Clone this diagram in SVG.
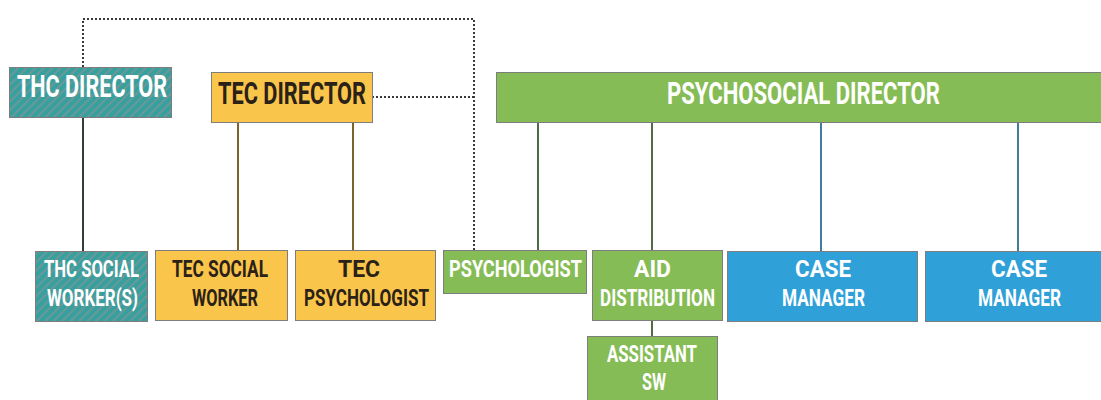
<svg xmlns="http://www.w3.org/2000/svg" width="1101" height="400" viewBox="0 0 1101 400">
  <defs>
    <pattern id="stripes" patternUnits="userSpaceOnUse" width="6" height="6" patternTransform="rotate(45)">
      <rect width="6" height="6" fill="#36a09e"/>
      <rect width="2" height="6" fill="#6a9898"/>
    </pattern>
  </defs>
  <style>
    .box { stroke: #7d7d7d; stroke-width: 1; }
    .thc { fill: url(#stripes); }
    .tec { fill: #fac54b; }
    .psy { fill: #86bc55; }
    .cm  { fill: #2fa0d8; }
    text { font-family: Roboto, "Liberation Sans", sans-serif; font-weight: bold; }
    .lt { fill: #ffffff; }
    .dk { fill: #2a2118; }
    .big { font-size: 31px; }
    .sm { font-size: 24px; }
    .ln { fill: none; stroke-width: 2; }
    .dot { fill: none; stroke: #3a3a3a; stroke-width: 2; stroke-dasharray: 2 2; }
  </style>

  <!-- connectors -->
  <g id="connectors">
    <path class="dot" d="M83 67 V19 H474 V250"/>
    <path class="dot" d="M372 97 H474"/>
    <line class="ln" x1="83" y1="117" x2="83" y2="251" stroke="#2f3d3d"/>
    <line class="ln" x1="238" y1="122" x2="238" y2="250" stroke="#7a6428"/>
    <line class="ln" x1="353" y1="122" x2="353" y2="250" stroke="#7a6428"/>
    <line class="ln" x1="538" y1="122" x2="538" y2="250" stroke="#4f6b45"/>
    <line class="ln" x1="652" y1="122" x2="652" y2="250" stroke="#4f6b45"/>
    <line class="ln" x1="821" y1="122" x2="821" y2="251" stroke="#3f7d9c"/>
    <line class="ln" x1="1018" y1="122" x2="1018" y2="251" stroke="#3f7d9c"/>
    <line class="ln" x1="652" y1="320" x2="652" y2="336" stroke="#4f6b45"/>
  </g>

  <!-- directors -->
  <g id="thc-director">
    <rect class="box thc" x="9.5" y="67.5" width="162" height="50"/>
    <text class="lt big" x="17" y="97" textLength="150" lengthAdjust="spacingAndGlyphs">THC DIRECTOR</text>
  </g>
  <g id="tec-director">
    <rect class="box tec" x="211.5" y="72.5" width="161" height="50"/>
    <text class="dk big" x="218" y="104" textLength="148" lengthAdjust="spacingAndGlyphs">TEC DIRECTOR</text>
  </g>
  <g id="psychosocial-director">
    <rect class="box psy" x="496.5" y="72.5" width="606" height="50"/>
    <text class="lt big" x="667" y="104" textLength="273" lengthAdjust="spacingAndGlyphs">PSYCHOSOCIAL DIRECTOR</text>
  </g>

  <!-- staff -->
  <g id="thc-social-workers">
    <rect class="box thc" x="35.5" y="251.5" width="112" height="70"/>
    <text class="lt sm" x="44" y="277" textLength="95" lengthAdjust="spacingAndGlyphs">THC SOCIAL</text>
    <text class="lt sm" x="47" y="306" textLength="91" lengthAdjust="spacingAndGlyphs">WORKER(S)</text>
  </g>
  <g id="tec-social-worker">
    <rect class="box tec" x="155.5" y="250.5" width="132" height="70"/>
    <text class="dk sm" x="172" y="277" textLength="96" lengthAdjust="spacingAndGlyphs">TEC SOCIAL</text>
    <text class="dk sm" x="192" y="306" textLength="66" lengthAdjust="spacingAndGlyphs">WORKER</text>
  </g>
  <g id="tec-psychologist">
    <rect class="box tec" x="295.5" y="250.5" width="140" height="70"/>
    <text class="dk sm" x="338" y="277" textLength="42" lengthAdjust="spacingAndGlyphs">TEC</text>
    <text class="dk sm" x="304" y="306" textLength="125" lengthAdjust="spacingAndGlyphs">PSYCHOLOGIST</text>
  </g>
  <g id="psychologist">
    <rect class="box psy" x="443.5" y="250.5" width="143" height="43"/>
    <text class="lt sm" x="449" y="277" textLength="133" lengthAdjust="spacingAndGlyphs">PSYCHOLOGIST</text>
  </g>
  <g id="aid-distribution">
    <rect class="box psy" x="592.5" y="250.5" width="130" height="70"/>
    <text class="lt sm" x="634" y="277" textLength="37" lengthAdjust="spacingAndGlyphs">AID</text>
    <text class="lt sm" x="600" y="306" textLength="115" lengthAdjust="spacingAndGlyphs">DISTRIBUTION</text>
  </g>
  <g id="assistant-sw">
    <rect class="box psy" x="587.5" y="336.5" width="130" height="66"/>
    <text class="lt sm" x="607" y="362" textLength="90" lengthAdjust="spacingAndGlyphs">ASSISTANT</text>
    <text class="lt sm" x="642" y="390" textLength="24" lengthAdjust="spacingAndGlyphs">SW</text>
  </g>
  <g id="case-manager-1">
    <rect class="box cm" x="727.5" y="251.5" width="190" height="70"/>
    <text class="lt sm" x="795" y="277" textLength="56" lengthAdjust="spacingAndGlyphs">CASE</text>
    <text class="lt sm" x="782" y="306" textLength="83" lengthAdjust="spacingAndGlyphs">MANAGER</text>
  </g>
  <g id="case-manager-2">
    <rect class="box cm" x="925.5" y="251.5" width="180" height="70"/>
    <text class="lt sm" x="991" y="277" textLength="56" lengthAdjust="spacingAndGlyphs">CASE</text>
    <text class="lt sm" x="978" y="306" textLength="83" lengthAdjust="spacingAndGlyphs">MANAGER</text>
  </g>
</svg>
